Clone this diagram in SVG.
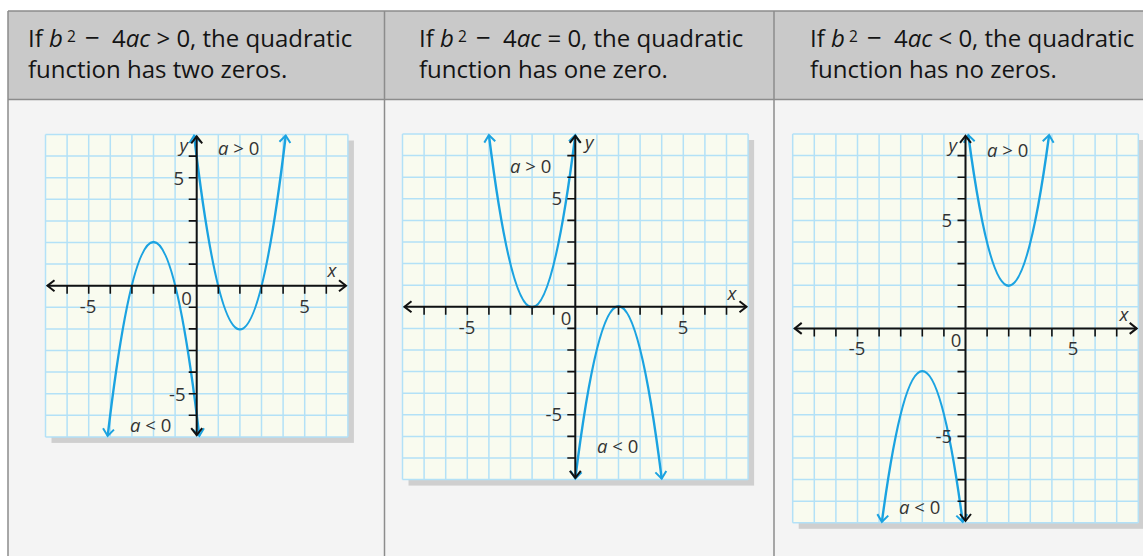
<svg xmlns="http://www.w3.org/2000/svg" width="1143" height="556" viewBox="0 0 1143 556">
<style>
.hdr{font-family:"Open Sans","Noto Sans","DejaVu Sans",sans-serif;font-size:24px;fill:#141414}
.it{font-style:italic}
.sup{font-size:15.5px}
.mn{font-size:26px}
.lbl{font-family:"Open Sans","Noto Sans","DejaVu Sans",sans-serif;font-size:18.5px;fill:#333}
.grid{fill:none;stroke:#b3e1f7;stroke-width:1.5}
.gbg{fill:#f9fbef}
.shadow{fill:#cfcfcf}
.axis{fill:none;stroke:#111;stroke-width:2}
.tick{fill:none;stroke:#111;stroke-width:1.6}
.curve{fill:none;stroke:#1ba3e1;stroke-width:2.4}
.border{fill:none;stroke:#8c8c8c;stroke-width:1.5}
</style>
<defs>
<marker id="ak" viewBox="-10 -8 12 16" refX="0" refY="0" markerWidth="12" markerHeight="16" markerUnits="userSpaceOnUse" orient="auto-start-reverse"><path d="M-7,-5.5 L0,0 L-7,5.5" fill="none" stroke="#111" stroke-width="2"/></marker>
<marker id="ab" viewBox="-10 -8 12 16" refX="0" refY="0" markerWidth="12" markerHeight="16" markerUnits="userSpaceOnUse" orient="auto-start-reverse"><path d="M-7,-5.5 L0,0 L-7,5.5" fill="none" stroke="#1ba3e1" stroke-width="2"/></marker>
</defs>
<rect x="0" y="0" width="1143" height="556" fill="#ffffff"/>
<rect x="8" y="11" width="1135" height="545" fill="#f4f4f4"/>
<rect x="8" y="11" width="1135" height="89" fill="#c9c9c9"/>
<g id="table-lines">
<path class="border" d="M8,11 H1143 M8,99.5 H1143 M8,11 V556 M384.5,11 V556 M774,11 V556"/>
</g>
<g id="header1">
<text class="hdr" y="47"><tspan x="28">If</tspan><tspan x="49" class="it">b</tspan><tspan x="67" dy="-5" class="sup">2</tspan><tspan x="85" dy="5" class="mn">−</tspan><tspan x="112">4</tspan><tspan class="it">ac</tspan><tspan> &gt; 0, the quadratic</tspan></text>
<text class="hdr" x="28" y="78">function has two zeros.</text>
</g>
<g id="header2">
<text class="hdr" y="47"><tspan x="419">If</tspan><tspan x="440" class="it">b</tspan><tspan x="458" dy="-5" class="sup">2</tspan><tspan x="476" dy="5" class="mn">−</tspan><tspan x="503">4</tspan><tspan class="it">ac</tspan><tspan> = 0, the quadratic</tspan></text>
<text class="hdr" x="419" y="78">function has one zero.</text>
</g>
<g id="header3">
<text class="hdr" y="47"><tspan x="810">If</tspan><tspan x="831" class="it">b</tspan><tspan x="849" dy="-5" class="sup">2</tspan><tspan x="867" dy="5" class="mn">−</tspan><tspan x="894">4</tspan><tspan class="it">ac</tspan><tspan> &lt; 0, the quadratic</tspan></text>
<text class="hdr" x="810" y="78">function has no zeros.</text>
</g>

<g id="graph1">
<rect class="shadow" x="51.5" y="140.5" width="302.4" height="302.4"/>
<rect class="gbg" x="45.5" y="134.5" width="302.4" height="302.4"/>
<path class="grid" d="M45.5,134.5V436.9M67.1,134.5V436.9M88.7,134.5V436.9M110.3,134.5V436.9M131.9,134.5V436.9M153.5,134.5V436.9M175.1,134.5V436.9M196.7,134.5V436.9M218.3,134.5V436.9M239.9,134.5V436.9M261.5,134.5V436.9M283.1,134.5V436.9M304.7,134.5V436.9M326.3,134.5V436.9M347.9,134.5V436.9M45.5,134.5H347.9M45.5,156.1H347.9M45.5,177.7H347.9M45.5,199.3H347.9M45.5,220.9H347.9M45.5,242.5H347.9M45.5,264.1H347.9M45.5,285.7H347.9M45.5,307.3H347.9M45.5,328.9H347.9M45.5,350.5H347.9M45.5,372.1H347.9M45.5,393.7H347.9M45.5,415.3H347.9M45.5,436.9H347.9"/>
<path class="curve" marker-start="url(#ab)" marker-end="url(#ab)" d="M194.08,135.5 Q239.9,523.3 285.72,135.5"/>
<path class="curve" marker-start="url(#ab)" marker-end="url(#ab)" d="M107.68,435.9 Q153.5,48.1 199.32,435.9"/>
<path class="tick" d="M67.1,285.7v8M88.7,285.7v8M110.3,285.7v8M131.9,285.7v8M153.5,285.7v8M175.1,285.7v8M218.3,285.7v8M239.9,285.7v8M261.5,285.7v8M283.1,285.7v8M304.7,285.7v8M326.3,285.7v8M196.7,156.1h-8M196.7,177.7h-8M196.7,199.3h-8M196.7,220.9h-8M196.7,242.5h-8M196.7,264.1h-8M196.7,307.3h-8M196.7,328.9h-8M196.7,350.5h-8M196.7,372.1h-8M196.7,393.7h-8M196.7,415.3h-8"/>
<path class="axis" marker-start="url(#ak)" marker-end="url(#ak)" d="M47.5,285.7H346"/>
<path class="axis" marker-start="url(#ak)" marker-end="url(#ak)" d="M196.7,136.3V435.2"/>
<text class="lbl it" x="188" y="152" text-anchor="end">y</text>
<text class="lbl" x="218" y="155"><tspan class="it">a</tspan> &gt; 0</text>
<text class="lbl" x="184" y="185" text-anchor="end">5</text>
<text class="lbl it" x="332" y="277" text-anchor="middle">x</text>
<text class="lbl" x="186.5" y="305" text-anchor="middle">0</text>
<text class="lbl" x="88" y="313" text-anchor="middle">-5</text>
<text class="lbl" x="304.5" y="313" text-anchor="middle">5</text>
<text class="lbl" x="185.5" y="401" text-anchor="end">-5</text>
<text class="lbl" x="130" y="432"><tspan class="it">a</tspan> &lt; 0</text>
</g>

<g id="graph2">
<rect class="shadow" x="408.5" y="140" width="345.6" height="345.6"/>
<rect class="gbg" x="402.5" y="134" width="345.6" height="345.6"/>
<path class="grid" d="M402.5,134V479.6M424.1,134V479.6M445.7,134V479.6M467.3,134V479.6M488.9,134V479.6M510.5,134V479.6M532.1,134V479.6M553.7,134V479.6M575.3,134V479.6M596.9,134V479.6M618.5,134V479.6M640.1,134V479.6M661.7,134V479.6M683.3,134V479.6M704.9,134V479.6M726.5,134V479.6M748.1,134V479.6M402.5,134H748.1M402.5,155.6H748.1M402.5,177.2H748.1M402.5,198.8H748.1M402.5,220.4H748.1M402.5,242H748.1M402.5,263.6H748.1M402.5,285.2H748.1M402.5,306.8H748.1M402.5,328.4H748.1M402.5,350H748.1M402.5,371.6H748.1M402.5,393.2H748.1M402.5,414.8H748.1M402.5,436.4H748.1M402.5,458H748.1M402.5,479.6H748.1"/>
<path class="curve" marker-start="url(#ab)" marker-end="url(#ab)" d="M488.9,135 Q532.1,479.6 575.3,135"/>
<path class="curve" marker-start="url(#ab)" marker-end="url(#ab)" d="M575.3,478.6 Q618.5,134 661.7,478.6"/>
<path class="tick" d="M424.1,306.8v8M445.7,306.8v8M467.3,306.8v8M488.9,306.8v8M510.5,306.8v8M532.1,306.8v8M553.7,306.8v8M596.9,306.8v8M618.5,306.8v8M640.1,306.8v8M661.7,306.8v8M683.3,306.8v8M704.9,306.8v8M726.5,306.8v8M575.3,155.6h-8M575.3,177.2h-8M575.3,198.8h-8M575.3,220.4h-8M575.3,242h-8M575.3,263.6h-8M575.3,285.2h-8M575.3,328.4h-8M575.3,350h-8M575.3,371.6h-8M575.3,393.2h-8M575.3,414.8h-8M575.3,436.4h-8M575.3,458h-8"/>
<path class="axis" marker-start="url(#ak)" marker-end="url(#ak)" d="M404.5,306.8H746.5"/>
<path class="axis" marker-start="url(#ak)" marker-end="url(#ak)" d="M575.3,135.8V477.8"/>
<text class="lbl it" x="585" y="149">y</text>
<text class="lbl" x="510" y="173"><tspan class="it">a</tspan> &gt; 0</text>
<text class="lbl" x="562" y="205" text-anchor="end">5</text>
<text class="lbl it" x="732" y="300" text-anchor="middle">x</text>
<text class="lbl" x="566" y="325" text-anchor="middle">0</text>
<text class="lbl" x="467" y="334" text-anchor="middle">-5</text>
<text class="lbl" x="683" y="334" text-anchor="middle">5</text>
<text class="lbl" x="562" y="421" text-anchor="end">-5</text>
<text class="lbl" x="597" y="453"><tspan class="it">a</tspan> &lt; 0</text>
</g>

<g id="graph3">
<rect class="shadow" x="798.7" y="140" width="345.6" height="388.8"/>
<rect class="gbg" x="792.7" y="134" width="345.6" height="388.8"/>
<path class="grid" d="M792.7,134V522.8M814.3,134V522.8M835.9,134V522.8M857.5,134V522.8M879.1,134V522.8M900.7,134V522.8M922.3,134V522.8M943.9,134V522.8M965.5,134V522.8M987.1,134V522.8M1008.7,134V522.8M1030.3,134V522.8M1051.9,134V522.8M1073.5,134V522.8M1095.1,134V522.8M1116.7,134V522.8M1138.3,134V522.8M792.7,134H1138.3M792.7,155.6H1138.3M792.7,177.2H1138.3M792.7,198.8H1138.3M792.7,220.4H1138.3M792.7,242H1138.3M792.7,263.6H1138.3M792.7,285.2H1138.3M792.7,306.8H1138.3M792.7,328.4H1138.3M792.7,350H1138.3M792.7,371.6H1138.3M792.7,393.2H1138.3M792.7,414.8H1138.3M792.7,436.4H1138.3M792.7,458H1138.3M792.7,479.6H1138.3M792.7,501.2H1138.3M792.7,522.8H1138.3"/>
<path class="curve" marker-start="url(#ab)" marker-end="url(#ab)" d="M968.29,135 Q1008.7,436.4 1049.11,135"/>
<path class="curve" marker-start="url(#ab)" marker-end="url(#ab)" d="M881.89,521.8 Q922.3,220.4 962.71,521.8"/>
<path class="tick" d="M814.3,328.4v8M835.9,328.4v8M857.5,328.4v8M879.1,328.4v8M900.7,328.4v8M922.3,328.4v8M943.9,328.4v8M987.1,328.4v8M1008.7,328.4v8M1030.3,328.4v8M1051.9,328.4v8M1073.5,328.4v8M1095.1,328.4v8M1116.7,328.4v8M965.5,155.6h-8M965.5,177.2h-8M965.5,198.8h-8M965.5,220.4h-8M965.5,242h-8M965.5,263.6h-8M965.5,285.2h-8M965.5,306.8h-8M965.5,350h-8M965.5,371.6h-8M965.5,393.2h-8M965.5,414.8h-8M965.5,436.4h-8M965.5,458h-8M965.5,479.6h-8M965.5,501.2h-8"/>
<path class="axis" marker-start="url(#ak)" marker-end="url(#ak)" d="M794.7,328.4H1136.7"/>
<path class="axis" marker-start="url(#ak)" marker-end="url(#ak)" d="M965.5,135.8V521"/>
<text class="lbl it" x="957" y="152" text-anchor="end">y</text>
<text class="lbl" x="987" y="157"><tspan class="it">a</tspan> &gt; 0</text>
<text class="lbl" x="952" y="227" text-anchor="end">5</text>
<text class="lbl it" x="1124" y="321" text-anchor="middle">x</text>
<text class="lbl" x="956" y="347" text-anchor="middle">0</text>
<text class="lbl" x="857" y="355" text-anchor="middle">-5</text>
<text class="lbl" x="1073" y="355" text-anchor="middle">5</text>
<text class="lbl" x="952" y="443" text-anchor="end">-5</text>
<text class="lbl" x="899" y="514"><tspan class="it">a</tspan> &lt; 0</text>
</g>
</svg>
